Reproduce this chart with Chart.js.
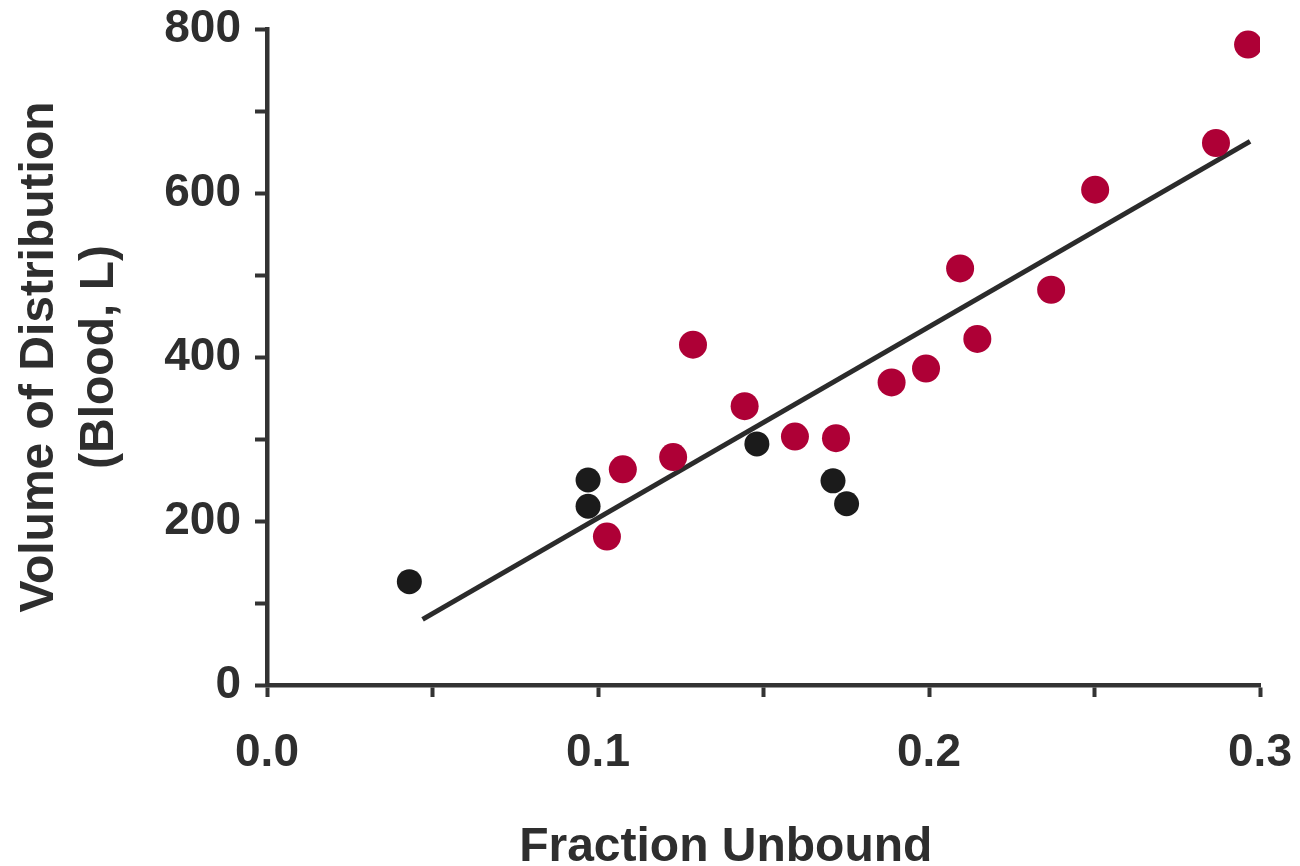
<!DOCTYPE html>
<html>
<head>
<meta charset="utf-8">
<script src="https://cdn.jsdelivr.net/npm/chart.js@4/dist/chart.umd.min.js"></script>
<style>
  html, body { margin: 0; padding: 0; background: #ffffff; }
  #wrap { width: 1300px; height: 866px; }
</style>
</head>
<body>
<div id="wrap"><canvas id="c" width="1300" height="866"></canvas></div>
<script>
// Black points (fraction unbound, volume of distribution)
const blackX = [0.043, 0.097, 0.097, 0.148, 0.171, 0.1751];
const blackY = [126, 218, 250, 294, 249, 221];

// Red points
const redX = [0.1027, 0.1075, 0.1227, 0.1287, 0.1443, 0.1595, 0.1719, 0.1887, 0.1991, 0.2094, 0.2146, 0.2369, 0.2502, 0.2867, 0.2964];
const redY = [181, 263, 278, 415, 340, 303, 301, 369, 386, 508, 422, 482, 604, 661, 781];

// Regression line end points
const fitX = [0.047, 0.297];
const fitY = [80, 663];

// Axis labels
const xTitle = 'Fraction Unbound';
const yTitle = ['Volume of Distribution', '(Blood, L)'];

const toPts = (xs, ys) => xs.map((x, i) => ({ x: x, y: ys[i] }));

const FONT = '"Liberation Sans", Arial, Helvetica, sans-serif';
const INK = '#2e2e2e';

const xTitlePlugin = {
  id: 'xTitlePlugin',
  afterDraw(chart) {
    const ctx = chart.ctx;
    const xs = chart.scales.x;
    ctx.save();
    ctx.font = 'bold 48px ' + FONT;
    ctx.fillStyle = INK;
    ctx.textAlign = 'center';
    ctx.textBaseline = 'middle';
    ctx.fillText(xTitle, xs.left + (xs.right - xs.left) * 0.462, 848);
    ctx.restore();
  }
};

function noPad(scale) {
  scale.paddingTop = 0;
  scale.paddingBottom = 0;
  scale.paddingLeft = 0;
  scale.paddingRight = 0;
}

new Chart(document.getElementById('c'), {
  type: 'scatter',
  data: {
    datasets: [
      {
        label: 'fit',
        type: 'line',
        data: toPts(fitX, fitY),
        borderColor: '#2b2b2b',
        borderWidth: 5,
        pointRadius: 0,
        fill: false,
        tension: 0,
        order: 3
      },
      {
        label: 'black',
        data: toPts(blackX, blackY),
        backgroundColor: '#1b1b1b',
        borderWidth: 0,
        pointRadius: 12.5,
        order: 2
      },
      {
        label: 'red',
        data: toPts(redX, redY),
        backgroundColor: '#AE0036',
        borderWidth: 0,
        pointRadius: 14,
        order: 1
      }
    ]
  },
  options: {
    responsive: false,
    animation: false,
    layout: { padding: { left: 0, right: 40, top: 29, bottom: 0 } },
    plugins: {
      legend: { display: false },
      tooltip: { enabled: false }
    },
    scales: {
      x: {
        type: 'linear',
        min: 0,
        max: 0.3,
        afterFit(scale) { scale.height = 181; noPad(scale); },
        border: { display: true, color: '#333333', width: 4.5 },
        grid: {
          drawOnChartArea: false,
          drawTicks: true,
          tickLength: 12,
          tickWidth: 4,
          tickColor: '#333333'
        },
        ticks: {
          stepSize: 0.05,
          autoSkip: false,
          maxRotation: 0,
          padding: 29,
          color: INK,
          font: { family: FONT, size: 46, weight: 'bold' },
          callback(v) {
            const k = Math.round(v * 100);
            return k % 10 === 0 ? (k / 100).toFixed(1) : '';
          }
        }
      },
      y: {
        type: 'linear',
        min: 0,
        max: 800,
        afterFit(scale) { scale.width = 267; noPad(scale); },
        border: { display: true, color: '#333333', width: 4.5 },
        grid: {
          drawOnChartArea: false,
          drawTicks: true,
          tickLength: 12,
          tickWidth: 4,
          tickColor: '#333333'
        },
        title: {
          display: true,
          text: yTitle,
          color: INK,
          font: { family: FONT, size: 48, weight: 'bold', lineHeight: 1.25 },
          padding: { top: 10, bottom: 0 }
        },
        ticks: {
          stepSize: 100,
          autoSkip: false,
          padding: 14,
          color: INK,
          font: { family: FONT, size: 46, weight: 'bold' },
          callback(v) {
            return Math.round(v) % 200 === 0 ? String(Math.round(v)) : '';
          }
        }
      }
    }
  },
  plugins: [xTitlePlugin]
});
</script>
</body>
</html>
